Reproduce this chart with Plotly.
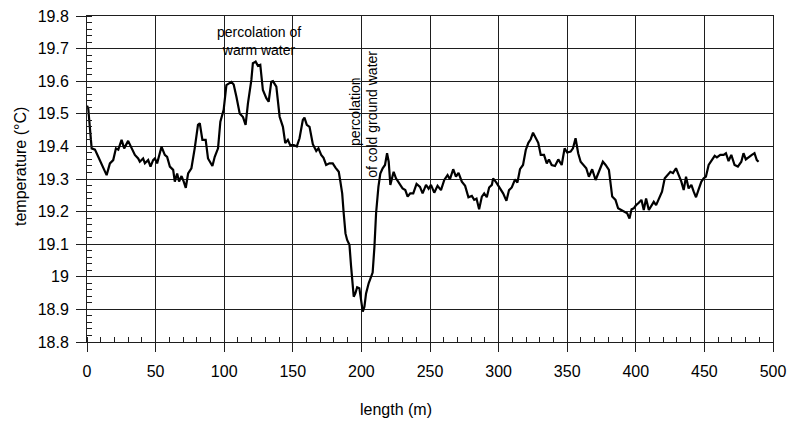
import plotly.graph_objects as go

length_m = [0.0, 0.9, 3.4, 5.8, 8.2, 10.7, 14.3, 16.7, 19.1, 21.1, 22.8, 25.2, 27.1, 30.0, 32.5, 34.9, 37.3, 38.5,
            40.9, 42.2, 44.6, 46.3, 48.2, 49.5, 51.1, 54.3, 56.7, 58.4, 60.4, 62.8, 64.0, 65.7, 67.1, 68.9, 70.5,
            72.0, 73.7, 76.1, 78.5, 80.9, 82.2, 84.1, 86.5, 88.2, 91.4, 93.1, 95.5, 97.2, 99.6, 101.6, 105.2,
            106.9, 108.9, 111.3, 113.7, 115.6, 117.3, 119.8, 120.9, 122.9, 124.6, 126.3, 128.2, 130.7, 132.4,
            134.3, 135.5, 138.0, 140.4, 142.8, 144.5, 146.4, 148.1, 150.8, 152.9, 154.9, 157.3, 158.5, 160.2,
            162.2, 164.6, 167.1, 168.7, 170.7, 172.4, 174.3, 176.7, 179.1, 181.1, 183.5, 184.5, 186.0, 187.1,
            188.4, 189.6, 191.3, 192.5, 193.7, 194.4, 195.6, 196.9, 198.5, 199.8, 201.0, 202.2, 203.4, 205.3,
            207.1, 208.2, 209.5, 210.7, 212.4, 213.8, 215.5, 217.2, 218.7, 219.9, 221.1, 222.3, 223.5, 225.2,
            227.6, 230.0, 232.0, 233.7, 235.6, 237.8, 240.2, 242.7, 244.6, 247.1, 249.0, 250.7, 253.1, 255.5,
            258.0, 260.4, 262.8, 264.5, 266.9, 268.9, 270.8, 273.2, 275.6, 278.0, 280.5, 282.2, 283.9, 285.8,
            287.8, 289.5, 291.4, 293.1, 295.1, 296.0, 298.4, 300.9, 303.3, 305.7, 307.6, 309.6, 312.0, 313.7,
            315.6, 317.8, 319.8, 321.7, 323.4, 325.1, 327.1, 328.9, 330.7, 333.1, 335.1, 336.7, 338.7, 341.1,
            343.5, 346.0, 348.1, 350.0, 352.5, 354.2, 356.1, 358.0, 359.8, 362.2, 363.9, 365.8, 368.2, 370.7,
            373.1, 376.0, 378.0, 380.4, 382.8, 385.2, 387.1, 389.6, 392.0, 393.7, 395.4, 396.9, 398.5, 400.2,
            402.2, 404.1, 405.8, 407.5, 409.5, 411.4, 413.1, 414.8, 416.7, 419.1, 421.1, 423.5, 425.2, 427.1,
            429.3, 431.3, 433.2, 434.9, 436.6, 438.5, 440.5, 442.2, 443.9, 445.8, 447.8, 449.5, 451.1, 453.1,
            455.5, 457.5, 459.1, 461.6, 464.0, 465.7, 467.6, 469.6, 472.0, 474.4, 476.9, 478.5, 480.2, 482.7,
            484.6, 486.5, 488.2, 489.5]

temperature_c = [19.525, 19.517, 19.394, 19.39, 19.368, 19.343, 19.312, 19.348, 19.358, 19.394, 19.39, 19.42,
                 19.394, 19.417, 19.394, 19.374, 19.363, 19.353, 19.363, 19.348, 19.358, 19.338, 19.358, 19.363,
                 19.348, 19.399, 19.374, 19.368, 19.338, 19.328, 19.292, 19.317, 19.292, 19.309, 19.292, 19.273,
                 19.317, 19.333, 19.394, 19.466, 19.471, 19.42, 19.42, 19.363, 19.34, 19.368, 19.394, 19.476,
                 19.512, 19.588, 19.598, 19.59, 19.552, 19.501, 19.49, 19.466, 19.532, 19.604, 19.655, 19.66,
                 19.647, 19.65, 19.573, 19.548, 19.537, 19.598, 19.6, 19.583, 19.491, 19.46, 19.41, 19.42,
                 19.404, 19.404, 19.4, 19.425, 19.481, 19.488, 19.466, 19.46, 19.407, 19.386, 19.394, 19.374,
                 19.365, 19.343, 19.348, 19.348, 19.335, 19.322, 19.297, 19.256, 19.195, 19.133, 19.113, 19.098,
                 19.031, 18.97, 18.939, 18.949, 18.968, 18.965, 18.924, 18.893, 18.908, 18.949, 18.98, 19.0,
                 19.013, 19.092, 19.195, 19.276, 19.317, 19.333, 19.343, 19.379, 19.353, 19.282, 19.307, 19.322,
                 19.302, 19.287, 19.271, 19.266, 19.246, 19.256, 19.256, 19.285, 19.276, 19.256, 19.282, 19.27,
                 19.282, 19.258, 19.279, 19.266, 19.297, 19.312, 19.299, 19.33, 19.307, 19.319, 19.292, 19.279,
                 19.244, 19.248, 19.236, 19.24, 19.207, 19.246, 19.256, 19.244, 19.274, 19.282, 19.302, 19.289,
                 19.274, 19.256, 19.233, 19.266, 19.274, 19.299, 19.289, 19.33, 19.343, 19.389, 19.411, 19.422,
                 19.442, 19.425, 19.411, 19.374, 19.374, 19.348, 19.36, 19.343, 19.34, 19.36, 19.343, 19.394,
                 19.381, 19.384, 19.394, 19.425, 19.379, 19.353, 19.343, 19.333, 19.307, 19.33, 19.297, 19.322,
                 19.353, 19.343, 19.328, 19.246, 19.236, 19.21, 19.205, 19.2, 19.195, 19.179, 19.207, 19.21,
                 19.22, 19.227, 19.236, 19.205, 19.24, 19.205, 19.22, 19.23, 19.22, 19.236, 19.261, 19.302,
                 19.312, 19.322, 19.318, 19.333, 19.312, 19.292, 19.266, 19.307, 19.271, 19.282, 19.261, 19.244,
                 19.268, 19.292, 19.302, 19.307, 19.343, 19.358, 19.371, 19.366, 19.374, 19.374, 19.379, 19.355,
                 19.374, 19.343, 19.338, 19.353, 19.379, 19.36, 19.369, 19.374, 19.379, 19.358, 19.353]

x_ticks = [0, 50, 100, 150, 200, 250, 300, 350, 400, 450, 500]
y_ticks = [18.8, 18.9, 19.0, 19.1, 19.2, 19.3, 19.4, 19.5, 19.6, 19.7, 19.8]
y_tick_labels = ["18.8", "18.9", "19", "19.1", "19.2", "19.3", "19.4", "19.5", "19.6", "19.7", "19.8"]

FONT = "Liberation Sans, Arial, sans-serif"
GRID = "#1e1e1e"

W, H = 789, 421
ML, MR, MT, MB = 87, 16, 16, 79
plot_w = W - ML - MR
plot_h = H - MT - MB

fig = go.Figure()
fig.add_trace(go.Scatter(x=length_m, y=temperature_c, mode="lines",
                         line=dict(color="black", width=2.2), showlegend=False, hoverinfo="skip"))

fig.update_layout(
    width=W, height=H,
    margin=dict(l=ML, r=MR, t=MT, b=MB, autoexpand=False),
    paper_bgcolor="white", plot_bgcolor="white",
    font=dict(family=FONT, color="black", size=15),
    xaxis=dict(range=[0, 500], tickvals=x_ticks, ticktext=[str(v) for v in x_ticks],
               showgrid=True, gridcolor=GRID, gridwidth=1, automargin=False,
               showline=True, linecolor=GRID, linewidth=1, mirror=True,
               ticks="outside", ticklen=9, tickcolor=GRID, ticklabelstandoff=6,
               tickfont=dict(size=16, family=FONT),
               minor=dict(dtick=10, ticks="inside", ticklen=5, tickcolor=GRID, showgrid=False),
               zeroline=False),
    yaxis=dict(range=[18.8, 19.8], tickvals=y_ticks, ticktext=y_tick_labels,
               showgrid=True, gridcolor=GRID, gridwidth=1, automargin=False,
               showline=True, linecolor=GRID, linewidth=1, mirror=True,
               ticks="outside", ticklen=10, tickcolor=GRID, ticklabelstandoff=4,
               tickfont=dict(size=16, family=FONT),
               minor=dict(dtick=0.02, ticks="inside", ticklen=5, tickcolor=GRID, showgrid=False),
               zeroline=False),
    annotations=[
        dict(text="percolation of<br>warm water", x=125, y=19.723, xref="x", yref="y",
             showarrow=False, font=dict(size=14, family=FONT), xanchor="center", yanchor="middle"),
        dict(text="percolation", x=194.9, y=19.395, xref="x", yref="y", textangle=-90,
             showarrow=False, font=dict(size=14, family=FONT), xanchor="center", yanchor="bottom"),
        dict(text="of cold ground water", x=208.0, y=19.297, xref="x", yref="y", textangle=-90,
             showarrow=False, font=dict(size=14, family=FONT), xanchor="center", yanchor="bottom"),
        dict(text="length (m)", x=(396 - ML) / plot_w, y=(H - MB - 410) / plot_h,
             xref="paper", yref="paper", yanchor="middle", xanchor="center",
             showarrow=False, font=dict(size=16, family=FONT)),
        dict(text="temperature (°C)", x=(20 - ML) / plot_w, y=(H - MB - 167) / plot_h,
             xref="paper", yref="paper", textangle=-90,
             showarrow=False, font=dict(size=16, family=FONT), xanchor="center", yanchor="middle"),
    ],
)

fig.write_html("out.html", config={"displayModeBar": False, "staticPlot": True},
               post_script="document.body.style.margin='0px';document.body.style.overflow='hidden';")
